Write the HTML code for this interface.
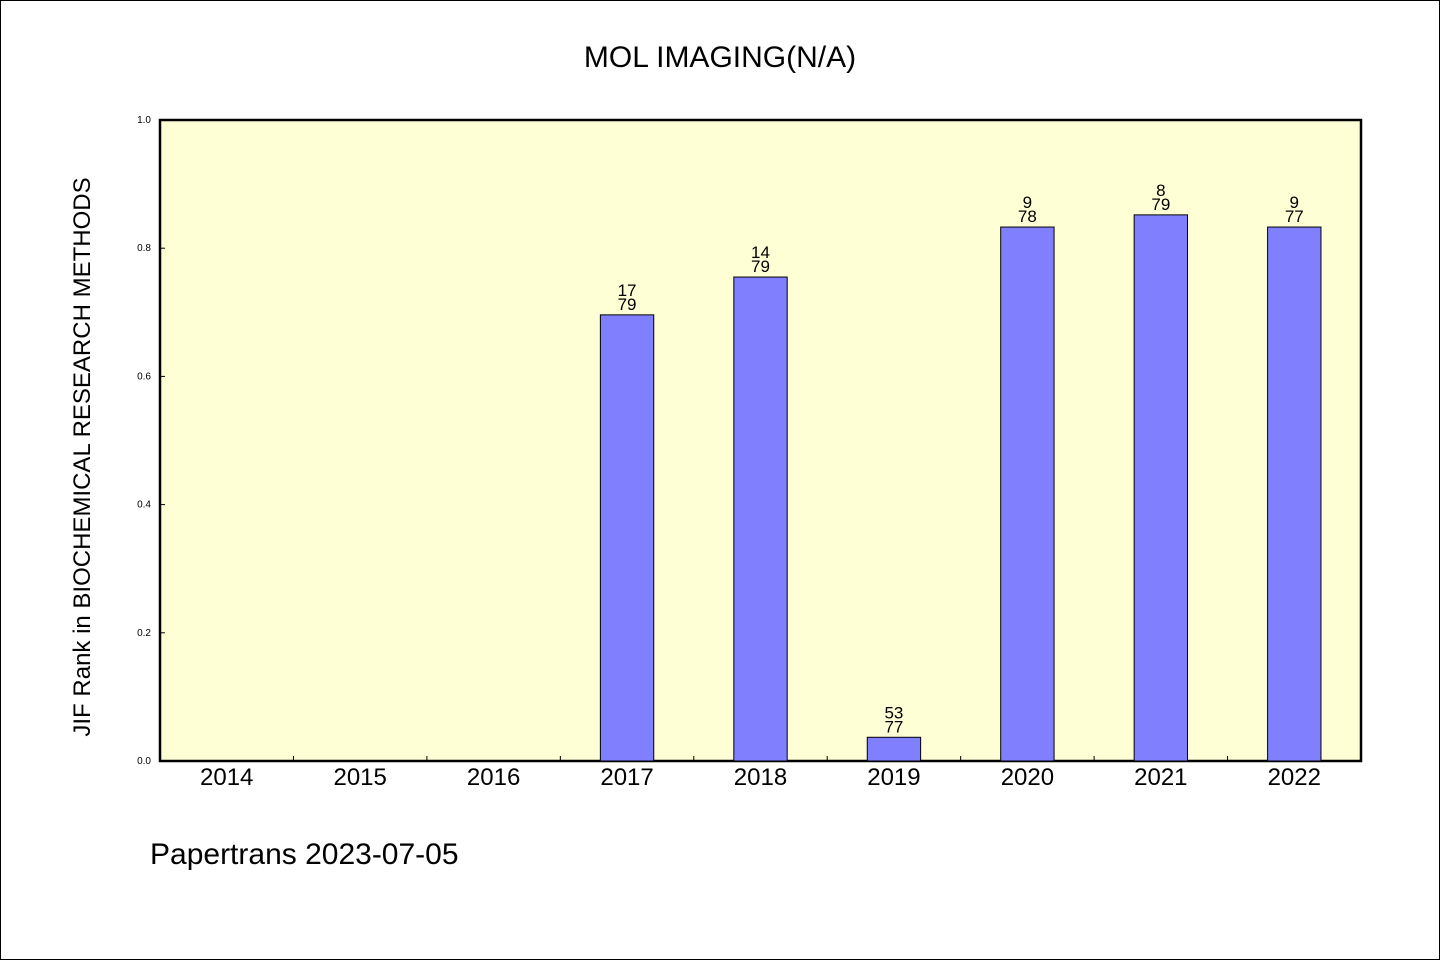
<!DOCTYPE html>
<html><head><meta charset="utf-8"><style>
body{margin:0;background:#fff}
svg text{font-family:"WenQuanYi Zen Hei","Liberation Sans",sans-serif;fill:#000}
</style></head><body>
<svg id="chart" width="1440" height="960" xmlns="http://www.w3.org/2000/svg">
<rect x="0.5" y="0.5" width="1439" height="959" fill="#fff" stroke="#000"/>
<text x="720" y="67" font-size="30" text-anchor="middle">MOL IMAGING(N/A)</text>
<rect x="160" y="120" width="1201" height="641" fill="#ffffd5" stroke="#000" stroke-width="2.5"/>
<g id="marks"></g>
<text transform="translate(90,457) rotate(-90)" font-size="24" text-anchor="middle">JIF Rank in BIOCHEMICAL RESEARCH METHODS</text>
<text x="150" y="864" font-size="30">Papertrans 2023-07-05</text>
</svg>
<script>
const categories=["2014","2015","2016","2017","2018","2019","2020","2021","2022"];
const values=[null,null,null,0.696,0.755,0.037,0.833,0.852,0.833];
const ranks=[null,null,null,"17","14","53","9","8","9"];
const totals=[null,null,null,"79","79","77","78","79","77"];
const yTicks=[0,0.2,0.4,0.6,0.8,1.0];
const yTickLabels=["0.0","0.2","0.4","0.6","0.8","1.0"];
const X0=160,X1=1361,Y0=761,Y1=120;
const band=(X1-X0)/categories.length;
const xc=i=>X0+band*(i+0.5);
const y=v=>Y0-(Y0-Y1)*v;
const g=document.getElementById('marks');
const NS="http://www.w3.org/2000/svg";
function mk(t,a){const e=document.createElementNS(NS,t);for(const k in a)e.setAttribute(k,a[k]);g.appendChild(e);return e;}
yTicks.forEach((v,i)=>{
  const l=mk('line',{x1:X0,x2:X0+5,y1:y(v),y2:y(v),stroke:'#000'});
  
  
  const t=mk('text',{x:X0-9,y:y(v)+3,'font-size':10,'text-anchor':'end'});
  t.textContent=yTickLabels[i];
  
  
});
categories.forEach((c,i)=>{
  if(i>0){const l=mk('line',{x1:X0+band*i,x2:X0+band*i,y1:Y0,y2:Y0-5,stroke:'#000'});
  
  }
  const t=mk('text',{x:xc(i),y:785,'font-size':24,'text-anchor':'middle'});
  t.textContent=c;
  
  
  if(values[i]!=null){
    const bw=band*0.4;
    const r=mk('rect',{x:xc(i)-bw/2,y:y(values[i]),width:bw,height:Y0-y(values[i]),fill:'#8080ff',stroke:'#000'});
    
    
    const t1=mk('text',{x:xc(i),y:y(values[i])-19,'font-size':17,'text-anchor':'middle'});
    t1.textContent=ranks[i];
    
    
    const t2=mk('text',{x:xc(i),y:y(values[i])-5,'font-size':17,'text-anchor':'middle'});
    t2.textContent=totals[i];
    
    
  }
});
</script>
</body></html>
